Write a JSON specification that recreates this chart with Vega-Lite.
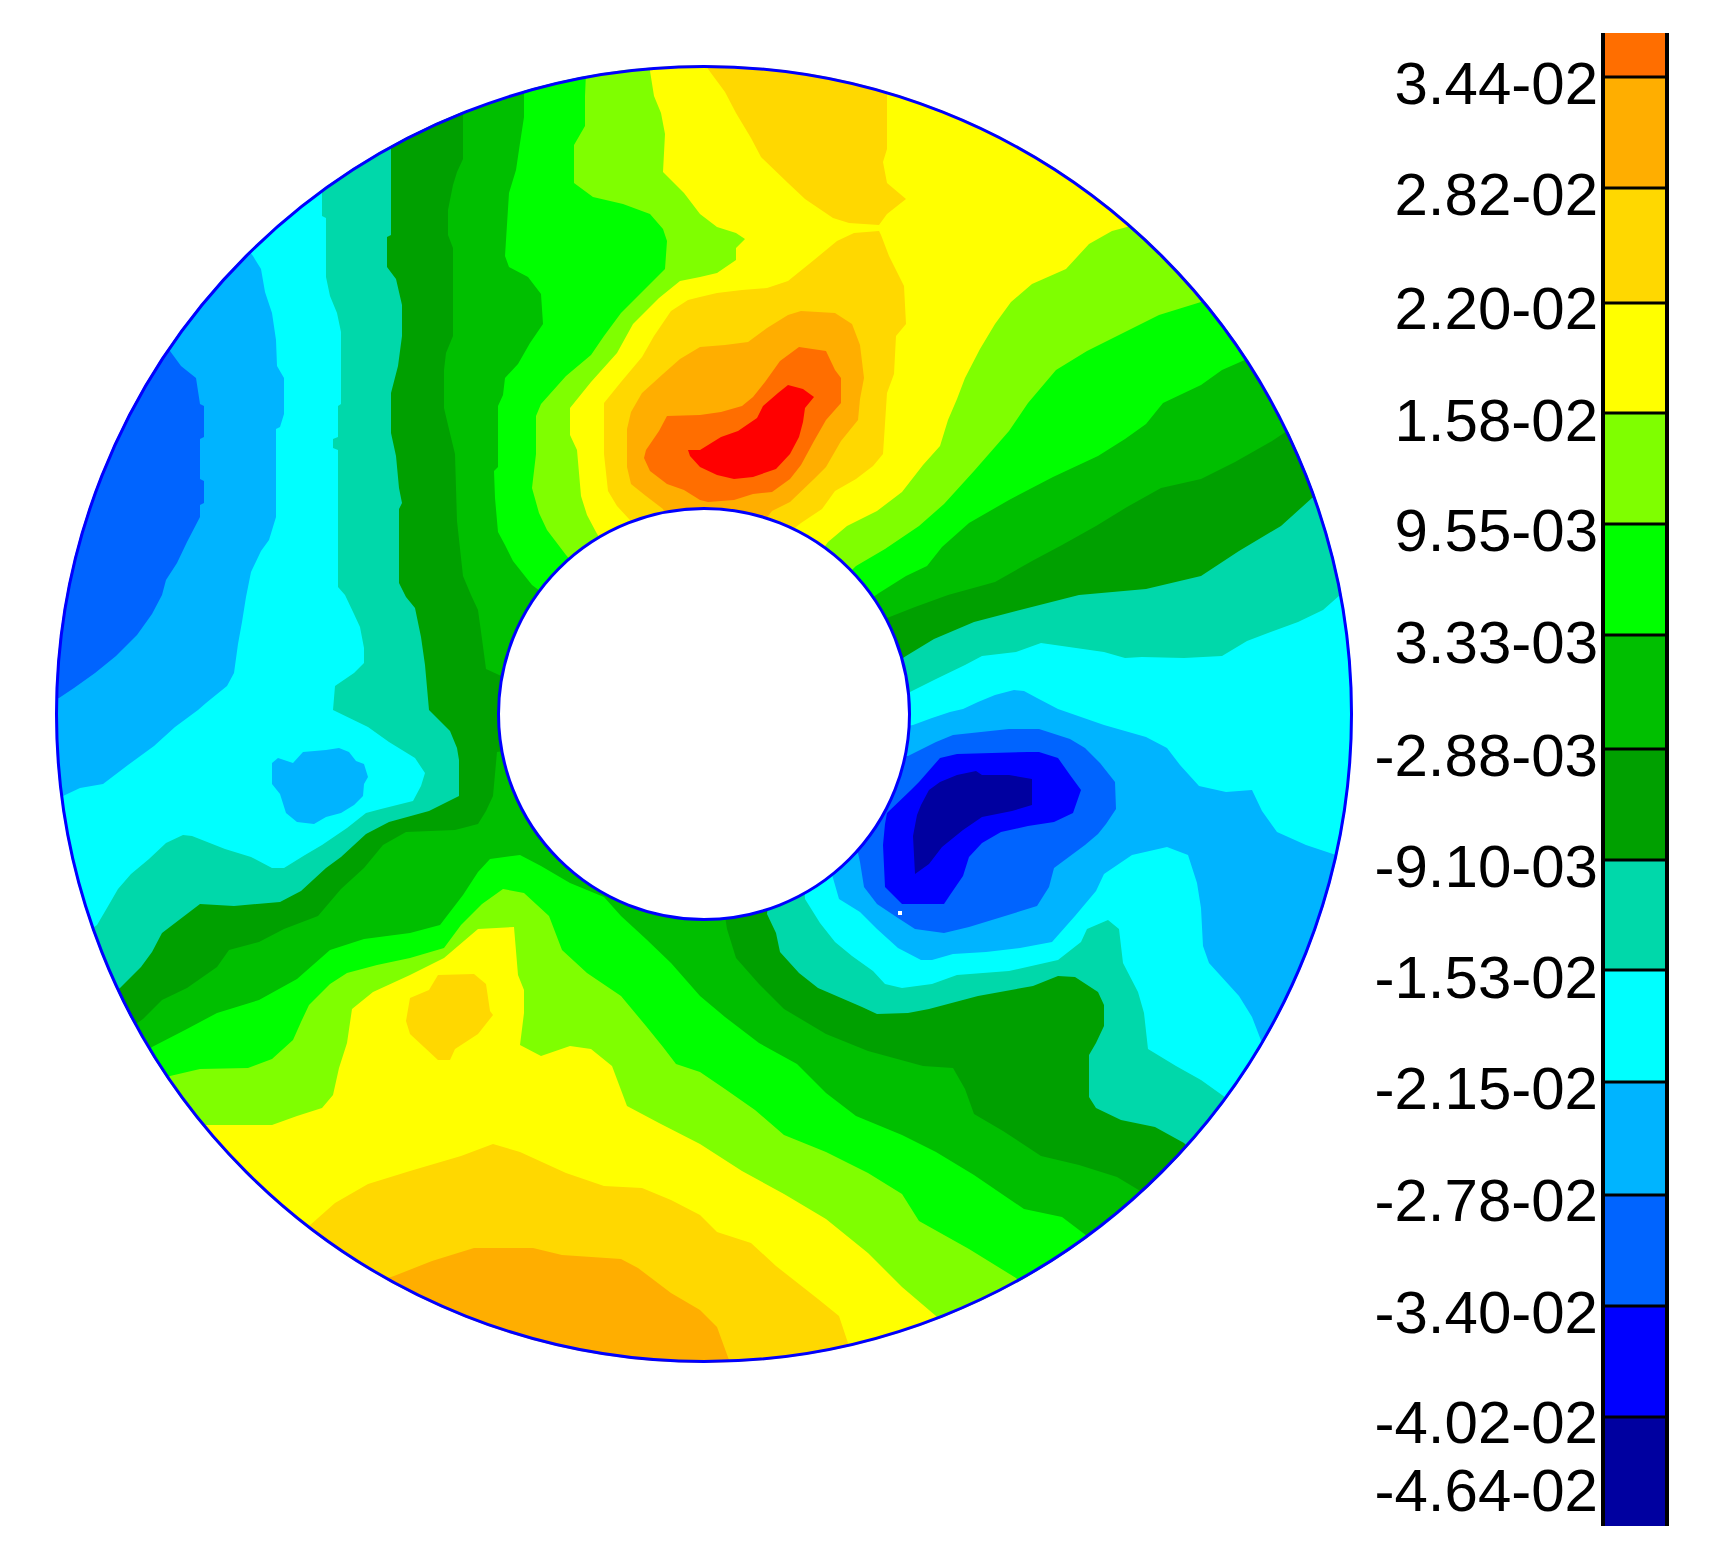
{"$schema":"https://vega.github.io/schema/vega-lite/v6.json","width":1713,"height":1568,"padding":0,"autosize":{"type":"none"},"background":"white","view":{"stroke":null},
"datasets":{
"center":[{"x":704,"y":714}],
"speck":[{"x":900,"y":913}],
"regions":[
{"r":"p1","l":"E","x":524,"y":0},{"r":"p1","l":"E","x":524,"y":88},{"r":"p1","l":"E","x":524,"y":117},{"r":"p1","l":"E","x":520,"y":143},{"r":"p1","l":"E","x":516,"y":170},{"r":"p1","l":"E","x":509,"y":193},{"r":"p1","l":"E","x":505,"y":256},{"r":"p1","l":"E","x":509,"y":267},{"r":"p1","l":"E","x":528,"y":277},{"r":"p1","l":"E","x":541,"y":294},{"r":"p1","l":"E","x":543,"y":324},{"r":"p1","l":"E","x":530,"y":343},{"r":"p1","l":"E","x":518,"y":364},{"r":"p1","l":"E","x":505,"y":378},{"r":"p1","l":"E","x":503,"y":395},{"r":"p1","l":"E","x":498,"y":406},{"r":"p1","l":"E","x":498,"y":467},{"r":"p1","l":"E","x":494,"y":471},{"r":"p1","l":"E","x":495,"y":498},{"r":"p1","l":"E","x":498,"y":532},{"r":"p1","l":"E","x":505,"y":545},{"r":"p1","l":"E","x":513,"y":561},{"r":"p1","l":"E","x":532,"y":585},{"r":"p1","l":"E","x":704,"y":714},{"r":"p1","l":"E","x":879,"y":593},{"r":"p1","l":"E","x":906,"y":576},{"r":"p1","l":"E","x":927,"y":566},{"r":"p1","l":"E","x":942,"y":547},{"r":"p1","l":"E","x":969,"y":523},{"r":"p1","l":"E","x":1009,"y":500},{"r":"p1","l":"E","x":1053,"y":477},{"r":"p1","l":"E","x":1098,"y":456},{"r":"p1","l":"E","x":1125,"y":439},{"r":"p1","l":"E","x":1146,"y":424},{"r":"p1","l":"E","x":1163,"y":403},{"r":"p1","l":"E","x":1201,"y":385},{"r":"p1","l":"E","x":1222,"y":370},{"r":"p1","l":"E","x":1247,"y":359},{"r":"p1","l":"E","x":1400,"y":310},{"r":"p1","l":"E","x":1400,"y":0},
{"r":"p2","l":"L","x":589,"y":0},{"r":"p2","l":"L","x":585,"y":96},{"r":"p2","l":"L","x":585,"y":126},{"r":"p2","l":"L","x":574,"y":145},{"r":"p2","l":"L","x":574,"y":183},{"r":"p2","l":"L","x":593,"y":197},{"r":"p2","l":"L","x":623,"y":204},{"r":"p2","l":"L","x":650,"y":214},{"r":"p2","l":"L","x":663,"y":229},{"r":"p2","l":"L","x":667,"y":241},{"r":"p2","l":"L","x":665,"y":269},{"r":"p2","l":"L","x":646,"y":288},{"r":"p2","l":"L","x":621,"y":313},{"r":"p2","l":"L","x":604,"y":336},{"r":"p2","l":"L","x":591,"y":355},{"r":"p2","l":"L","x":566,"y":376},{"r":"p2","l":"L","x":541,"y":404},{"r":"p2","l":"L","x":536,"y":416},{"r":"p2","l":"L","x":536,"y":454},{"r":"p2","l":"L","x":532,"y":488},{"r":"p2","l":"L","x":539,"y":513},{"r":"p2","l":"L","x":547,"y":530},{"r":"p2","l":"L","x":566,"y":555},{"r":"p2","l":"L","x":704,"y":714},{"r":"p2","l":"L","x":856,"y":566},{"r":"p2","l":"L","x":885,"y":549},{"r":"p2","l":"L","x":919,"y":526},{"r":"p2","l":"L","x":944,"y":504},{"r":"p2","l":"L","x":974,"y":471},{"r":"p2","l":"L","x":1009,"y":431},{"r":"p2","l":"L","x":1028,"y":403},{"r":"p2","l":"L","x":1056,"y":370},{"r":"p2","l":"L","x":1087,"y":351},{"r":"p2","l":"L","x":1117,"y":336},{"r":"p2","l":"L","x":1159,"y":315},{"r":"p2","l":"L","x":1201,"y":302},{"r":"p2","l":"L","x":1300,"y":260},{"r":"p2","l":"L","x":1300,"y":0},
{"r":"p3","l":"Y","x":650,"y":0},{"r":"p3","l":"Y","x":650,"y":71},{"r":"p3","l":"Y","x":654,"y":96},{"r":"p3","l":"Y","x":661,"y":113},{"r":"p3","l":"Y","x":665,"y":134},{"r":"p3","l":"Y","x":663,"y":172},{"r":"p3","l":"Y","x":684,"y":193},{"r":"p3","l":"Y","x":700,"y":214},{"r":"p3","l":"Y","x":717,"y":227},{"r":"p3","l":"Y","x":736,"y":233},{"r":"p3","l":"Y","x":745,"y":239},{"r":"p3","l":"Y","x":736,"y":248},{"r":"p3","l":"Y","x":736,"y":260},{"r":"p3","l":"Y","x":717,"y":273},{"r":"p3","l":"Y","x":700,"y":277},{"r":"p3","l":"Y","x":680,"y":281},{"r":"p3","l":"Y","x":659,"y":298},{"r":"p3","l":"Y","x":633,"y":324},{"r":"p3","l":"Y","x":617,"y":353},{"r":"p3","l":"Y","x":591,"y":382},{"r":"p3","l":"Y","x":570,"y":408},{"r":"p3","l":"Y","x":570,"y":435},{"r":"p3","l":"Y","x":577,"y":450},{"r":"p3","l":"Y","x":581,"y":496},{"r":"p3","l":"Y","x":587,"y":515},{"r":"p3","l":"Y","x":596,"y":532},{"r":"p3","l":"Y","x":704,"y":714},{"r":"p3","l":"Y","x":828,"y":542},{"r":"p3","l":"Y","x":847,"y":526},{"r":"p3","l":"Y","x":877,"y":511},{"r":"p3","l":"Y","x":902,"y":492},{"r":"p3","l":"Y","x":923,"y":465},{"r":"p3","l":"Y","x":940,"y":446},{"r":"p3","l":"Y","x":948,"y":420},{"r":"p3","l":"Y","x":957,"y":399},{"r":"p3","l":"Y","x":965,"y":378},{"r":"p3","l":"Y","x":980,"y":349},{"r":"p3","l":"Y","x":995,"y":324},{"r":"p3","l":"Y","x":1011,"y":302},{"r":"p3","l":"Y","x":1032,"y":284},{"r":"p3","l":"Y","x":1066,"y":269},{"r":"p3","l":"Y","x":1089,"y":244},{"r":"p3","l":"Y","x":1112,"y":231},{"r":"p3","l":"Y","x":1127,"y":227},{"r":"p3","l":"Y","x":1230,"y":180},{"r":"p3","l":"Y","x":1230,"y":0},
{"r":"p4a","l":"G","x":708,"y":20},{"r":"p4a","l":"G","x":708,"y":69},{"r":"p4a","l":"G","x":725,"y":92},{"r":"p4a","l":"G","x":736,"y":113},{"r":"p4a","l":"G","x":751,"y":138},{"r":"p4a","l":"G","x":761,"y":157},{"r":"p4a","l":"G","x":788,"y":183},{"r":"p4a","l":"G","x":805,"y":199},{"r":"p4a","l":"G","x":833,"y":218},{"r":"p4a","l":"G","x":849,"y":223},{"r":"p4a","l":"G","x":879,"y":225},{"r":"p4a","l":"G","x":887,"y":214},{"r":"p4a","l":"G","x":906,"y":199},{"r":"p4a","l":"G","x":887,"y":183},{"r":"p4a","l":"G","x":883,"y":162},{"r":"p4a","l":"G","x":887,"y":149},{"r":"p4a","l":"G","x":887,"y":96},{"r":"p4a","l":"G","x":887,"y":20},
{"r":"p4b","l":"G","x":879,"y":231},{"r":"p4b","l":"G","x":854,"y":233},{"r":"p4b","l":"G","x":837,"y":241},{"r":"p4b","l":"G","x":814,"y":260},{"r":"p4b","l":"G","x":788,"y":281},{"r":"p4b","l":"G","x":767,"y":288},{"r":"p4b","l":"G","x":742,"y":290},{"r":"p4b","l":"G","x":717,"y":293},{"r":"p4b","l":"G","x":700,"y":297},{"r":"p4b","l":"G","x":688,"y":300},{"r":"p4b","l":"G","x":671,"y":311},{"r":"p4b","l":"G","x":654,"y":336},{"r":"p4b","l":"G","x":642,"y":357},{"r":"p4b","l":"G","x":621,"y":382},{"r":"p4b","l":"G","x":604,"y":403},{"r":"p4b","l":"G","x":604,"y":454},{"r":"p4b","l":"G","x":608,"y":491},{"r":"p4b","l":"G","x":617,"y":506},{"r":"p4b","l":"G","x":629,"y":519},{"r":"p4b","l":"G","x":704,"y":600},{"r":"p4b","l":"G","x":801,"y":523},{"r":"p4b","l":"G","x":822,"y":509},{"r":"p4b","l":"G","x":835,"y":491},{"r":"p4b","l":"G","x":856,"y":479},{"r":"p4b","l":"G","x":873,"y":466},{"r":"p4b","l":"G","x":883,"y":454},{"r":"p4b","l":"G","x":887,"y":393},{"r":"p4b","l":"G","x":894,"y":374},{"r":"p4b","l":"G","x":896,"y":336},{"r":"p4b","l":"G","x":906,"y":324},{"r":"p4b","l":"G","x":904,"y":286},{"r":"p4b","l":"G","x":889,"y":256},{"r":"p4b","l":"G","x":881,"y":235},
{"r":"p5","l":"A","x":700,"y":347},{"r":"p5","l":"A","x":725,"y":345},{"r":"p5","l":"A","x":748,"y":342},{"r":"p5","l":"A","x":767,"y":328},{"r":"p5","l":"A","x":788,"y":315},{"r":"p5","l":"A","x":801,"y":311},{"r":"p5","l":"A","x":835,"y":313},{"r":"p5","l":"A","x":852,"y":324},{"r":"p5","l":"A","x":860,"y":345},{"r":"p5","l":"A","x":864,"y":378},{"r":"p5","l":"A","x":860,"y":399},{"r":"p5","l":"A","x":858,"y":420},{"r":"p5","l":"A","x":841,"y":441},{"r":"p5","l":"A","x":826,"y":467},{"r":"p5","l":"A","x":814,"y":479},{"r":"p5","l":"A","x":790,"y":502},{"r":"p5","l":"A","x":772,"y":511},{"r":"p5","l":"A","x":704,"y":600},{"r":"p5","l":"A","x":663,"y":509},{"r":"p5","l":"A","x":646,"y":496},{"r":"p5","l":"A","x":631,"y":484},{"r":"p5","l":"A","x":627,"y":467},{"r":"p5","l":"A","x":627,"y":429},{"r":"p5","l":"A","x":631,"y":412},{"r":"p5","l":"A","x":642,"y":393},{"r":"p5","l":"A","x":663,"y":374},{"r":"p5","l":"A","x":680,"y":359},
{"r":"p6","l":"O","x":700,"y":415},{"r":"p6","l":"O","x":721,"y":412},{"r":"p6","l":"O","x":742,"y":406},{"r":"p6","l":"O","x":753,"y":397},{"r":"p6","l":"O","x":765,"y":382},{"r":"p6","l":"O","x":780,"y":361},{"r":"p6","l":"O","x":799,"y":347},{"r":"p6","l":"O","x":826,"y":351},{"r":"p6","l":"O","x":835,"y":370},{"r":"p6","l":"O","x":841,"y":378},{"r":"p6","l":"O","x":841,"y":403},{"r":"p6","l":"O","x":826,"y":420},{"r":"p6","l":"O","x":814,"y":441},{"r":"p6","l":"O","x":801,"y":465},{"r":"p6","l":"O","x":790,"y":479},{"r":"p6","l":"O","x":772,"y":492},{"r":"p6","l":"O","x":753,"y":494},{"r":"p6","l":"O","x":734,"y":500},{"r":"p6","l":"O","x":708,"y":502},{"r":"p6","l":"O","x":700,"y":500},{"r":"p6","l":"O","x":684,"y":490},{"r":"p6","l":"O","x":667,"y":484},{"r":"p6","l":"O","x":650,"y":471},{"r":"p6","l":"O","x":644,"y":458},{"r":"p6","l":"O","x":646,"y":450},{"r":"p6","l":"O","x":659,"y":431},{"r":"p6","l":"O","x":667,"y":416},
{"r":"p7","l":"R","x":700,"y":450},{"r":"p7","l":"R","x":721,"y":437},{"r":"p7","l":"R","x":738,"y":431},{"r":"p7","l":"R","x":757,"y":418},{"r":"p7","l":"R","x":763,"y":406},{"r":"p7","l":"R","x":778,"y":393},{"r":"p7","l":"R","x":788,"y":385},{"r":"p7","l":"R","x":803,"y":389},{"r":"p7","l":"R","x":814,"y":397},{"r":"p7","l":"R","x":805,"y":408},{"r":"p7","l":"R","x":803,"y":422},{"r":"p7","l":"R","x":799,"y":437},{"r":"p7","l":"R","x":790,"y":454},{"r":"p7","l":"R","x":776,"y":469},{"r":"p7","l":"R","x":753,"y":477},{"r":"p7","l":"R","x":734,"y":479},{"r":"p7","l":"R","x":717,"y":475},{"r":"p7","l":"R","x":700,"y":467},{"r":"p7","l":"R","x":690,"y":456},{"r":"p7","l":"R","x":688,"y":450},
{"r":"q1","l":"E","x":100,"y":1090},{"r":"q1","l":"E","x":152,"y":1047},{"r":"q1","l":"E","x":185,"y":1030},{"r":"q1","l":"E","x":217,"y":1013},{"r":"q1","l":"E","x":259,"y":1000},{"r":"q1","l":"E","x":297,"y":979},{"r":"q1","l":"E","x":330,"y":950},{"r":"q1","l":"E","x":364,"y":939},{"r":"q1","l":"E","x":410,"y":933},{"r":"q1","l":"E","x":440,"y":925},{"r":"q1","l":"E","x":463,"y":895},{"r":"q1","l":"E","x":478,"y":872},{"r":"q1","l":"E","x":490,"y":859},{"r":"q1","l":"E","x":520,"y":855},{"r":"q1","l":"E","x":541,"y":866},{"r":"q1","l":"E","x":570,"y":883},{"r":"q1","l":"E","x":604,"y":897},{"r":"q1","l":"E","x":621,"y":916},{"r":"q1","l":"E","x":646,"y":939},{"r":"q1","l":"E","x":671,"y":963},{"r":"q1","l":"E","x":700,"y":996},{"r":"q1","l":"E","x":725,"y":1017},{"r":"q1","l":"E","x":759,"y":1043},{"r":"q1","l":"E","x":797,"y":1064},{"r":"q1","l":"E","x":826,"y":1093},{"r":"q1","l":"E","x":856,"y":1116},{"r":"q1","l":"E","x":902,"y":1135},{"r":"q1","l":"E","x":936,"y":1152},{"r":"q1","l":"E","x":974,"y":1175},{"r":"q1","l":"E","x":1024,"y":1209},{"r":"q1","l":"E","x":1062,"y":1217},{"r":"q1","l":"E","x":1087,"y":1236},{"r":"q1","l":"E","x":1150,"y":1300},{"r":"q1","l":"E","x":1150,"y":1500},{"r":"q1","l":"E","x":100,"y":1500},
{"r":"q2","l":"L","x":120,"y":1110},{"r":"q2","l":"L","x":170,"y":1076},{"r":"q2","l":"L","x":200,"y":1069},{"r":"q2","l":"L","x":248,"y":1068},{"r":"q2","l":"L","x":272,"y":1059},{"r":"q2","l":"L","x":293,"y":1040},{"r":"q2","l":"L","x":301,"y":1022},{"r":"q2","l":"L","x":309,"y":1005},{"r":"q2","l":"L","x":330,"y":984},{"r":"q2","l":"L","x":347,"y":973},{"r":"q2","l":"L","x":377,"y":965},{"r":"q2","l":"L","x":410,"y":958},{"r":"q2","l":"L","x":444,"y":948},{"r":"q2","l":"L","x":461,"y":925},{"r":"q2","l":"L","x":482,"y":904},{"r":"q2","l":"L","x":503,"y":889},{"r":"q2","l":"L","x":524,"y":893},{"r":"q2","l":"L","x":549,"y":916},{"r":"q2","l":"L","x":562,"y":950},{"r":"q2","l":"L","x":587,"y":973},{"r":"q2","l":"L","x":621,"y":996},{"r":"q2","l":"L","x":646,"y":1026},{"r":"q2","l":"L","x":663,"y":1047},{"r":"q2","l":"L","x":676,"y":1064},{"r":"q2","l":"L","x":700,"y":1072},{"r":"q2","l":"L","x":725,"y":1089},{"r":"q2","l":"L","x":755,"y":1110},{"r":"q2","l":"L","x":784,"y":1135},{"r":"q2","l":"L","x":826,"y":1152},{"r":"q2","l":"L","x":868,"y":1173},{"r":"q2","l":"L","x":902,"y":1194},{"r":"q2","l":"L","x":919,"y":1221},{"r":"q2","l":"L","x":969,"y":1249},{"r":"q2","l":"L","x":1016,"y":1278},{"r":"q2","l":"L","x":1060,"y":1330},{"r":"q2","l":"L","x":1060,"y":1500},{"r":"q2","l":"L","x":120,"y":1500},
{"r":"q3","l":"Y","x":170,"y":1160},{"r":"q3","l":"Y","x":206,"y":1125},{"r":"q3","l":"Y","x":272,"y":1125},{"r":"q3","l":"Y","x":297,"y":1116},{"r":"q3","l":"Y","x":322,"y":1108},{"r":"q3","l":"Y","x":333,"y":1095},{"r":"q3","l":"Y","x":339,"y":1068},{"r":"q3","l":"Y","x":347,"y":1043},{"r":"q3","l":"Y","x":352,"y":1009},{"r":"q3","l":"Y","x":373,"y":992},{"r":"q3","l":"Y","x":410,"y":975},{"r":"q3","l":"Y","x":444,"y":958},{"r":"q3","l":"Y","x":478,"y":929},{"r":"q3","l":"Y","x":514,"y":927},{"r":"q3","l":"Y","x":518,"y":975},{"r":"q3","l":"Y","x":524,"y":990},{"r":"q3","l":"Y","x":524,"y":1013},{"r":"q3","l":"Y","x":520,"y":1045},{"r":"q3","l":"Y","x":541,"y":1056},{"r":"q3","l":"Y","x":570,"y":1046},{"r":"q3","l":"Y","x":591,"y":1049},{"r":"q3","l":"Y","x":612,"y":1066},{"r":"q3","l":"Y","x":627,"y":1106},{"r":"q3","l":"Y","x":659,"y":1123},{"r":"q3","l":"Y","x":700,"y":1144},{"r":"q3","l":"Y","x":742,"y":1171},{"r":"q3","l":"Y","x":784,"y":1194},{"r":"q3","l":"Y","x":826,"y":1219},{"r":"q3","l":"Y","x":868,"y":1253},{"r":"q3","l":"Y","x":902,"y":1287},{"r":"q3","l":"Y","x":936,"y":1316},{"r":"q3","l":"Y","x":990,"y":1380},{"r":"q3","l":"Y","x":990,"y":1500},{"r":"q3","l":"Y","x":170,"y":1500},
{"r":"q4a","l":"G","x":410,"y":998},{"r":"q4a","l":"G","x":429,"y":990},{"r":"q4a","l":"G","x":438,"y":975},{"r":"q4a","l":"G","x":474,"y":974},{"r":"q4a","l":"G","x":486,"y":984},{"r":"q4a","l":"G","x":490,"y":1011},{"r":"q4a","l":"G","x":493,"y":1015},{"r":"q4a","l":"G","x":478,"y":1034},{"r":"q4a","l":"G","x":455,"y":1049},{"r":"q4a","l":"G","x":450,"y":1060},{"r":"q4a","l":"G","x":438,"y":1060},{"r":"q4a","l":"G","x":410,"y":1034},{"r":"q4a","l":"G","x":406,"y":1021},
{"r":"q4b","l":"G","x":270,"y":1270},{"r":"q4b","l":"G","x":309,"y":1226},{"r":"q4b","l":"G","x":335,"y":1203},{"r":"q4b","l":"G","x":368,"y":1184},{"r":"q4b","l":"G","x":410,"y":1171},{"r":"q4b","l":"G","x":461,"y":1156},{"r":"q4b","l":"G","x":493,"y":1144},{"r":"q4b","l":"G","x":520,"y":1152},{"r":"q4b","l":"G","x":566,"y":1173},{"r":"q4b","l":"G","x":604,"y":1186},{"r":"q4b","l":"G","x":642,"y":1188},{"r":"q4b","l":"G","x":671,"y":1200},{"r":"q4b","l":"G","x":700,"y":1215},{"r":"q4b","l":"G","x":717,"y":1232},{"r":"q4b","l":"G","x":751,"y":1243},{"r":"q4b","l":"G","x":776,"y":1266},{"r":"q4b","l":"G","x":818,"y":1299},{"r":"q4b","l":"G","x":839,"y":1316},{"r":"q4b","l":"G","x":849,"y":1346},{"r":"q4b","l":"G","x":860,"y":1420},{"r":"q4b","l":"G","x":270,"y":1420},
{"r":"q5","l":"A","x":350,"y":1290},{"r":"q5","l":"A","x":394,"y":1276},{"r":"q5","l":"A","x":432,"y":1261},{"r":"q5","l":"A","x":474,"y":1248},{"r":"q5","l":"A","x":533,"y":1248},{"r":"q5","l":"A","x":562,"y":1255},{"r":"q5","l":"A","x":621,"y":1259},{"r":"q5","l":"A","x":638,"y":1268},{"r":"q5","l":"A","x":671,"y":1293},{"r":"q5","l":"A","x":700,"y":1310},{"r":"q5","l":"A","x":717,"y":1327},{"r":"q5","l":"A","x":729,"y":1360},{"r":"q5","l":"A","x":735,"y":1420},{"r":"q5","l":"A","x":350,"y":1420},
{"r":"n1a","l":"D","x":463,"y":0},{"r":"n1a","l":"D","x":463,"y":113},{"r":"n1a","l":"D","x":463,"y":159},{"r":"n1a","l":"D","x":457,"y":172},{"r":"n1a","l":"D","x":453,"y":185},{"r":"n1a","l":"D","x":448,"y":210},{"r":"n1a","l":"D","x":448,"y":235},{"r":"n1a","l":"D","x":453,"y":248},{"r":"n1a","l":"D","x":453,"y":336},{"r":"n1a","l":"D","x":446,"y":353},{"r":"n1a","l":"D","x":444,"y":370},{"r":"n1a","l":"D","x":444,"y":408},{"r":"n1a","l":"D","x":448,"y":425},{"r":"n1a","l":"D","x":455,"y":454},{"r":"n1a","l":"D","x":457,"y":521},{"r":"n1a","l":"D","x":463,"y":576},{"r":"n1a","l":"D","x":471,"y":595},{"r":"n1a","l":"D","x":478,"y":610},{"r":"n1a","l":"D","x":482,"y":639},{"r":"n1a","l":"D","x":486,"y":669},{"r":"n1a","l":"D","x":510,"y":680},{"r":"n1a","l":"D","x":510,"y":750},{"r":"n1a","l":"D","x":497,"y":752},{"r":"n1a","l":"D","x":493,"y":796},{"r":"n1a","l":"D","x":486,"y":811},{"r":"n1a","l":"D","x":478,"y":824},{"r":"n1a","l":"D","x":455,"y":830},{"r":"n1a","l":"D","x":406,"y":832},{"r":"n1a","l":"D","x":383,"y":845},{"r":"n1a","l":"D","x":364,"y":868},{"r":"n1a","l":"D","x":341,"y":889},{"r":"n1a","l":"D","x":318,"y":916},{"r":"n1a","l":"D","x":284,"y":929},{"r":"n1a","l":"D","x":259,"y":942},{"r":"n1a","l":"D","x":229,"y":950},{"r":"n1a","l":"D","x":217,"y":967},{"r":"n1a","l":"D","x":187,"y":988},{"r":"n1a","l":"D","x":162,"y":1000},{"r":"n1a","l":"D","x":143,"y":1019},{"r":"n1a","l":"D","x":100,"y":1050},{"r":"n1a","l":"D","x":0,"y":1050},{"r":"n1a","l":"D","x":0,"y":0},
{"r":"n1b","l":"D","x":860,"y":640},{"r":"n1b","l":"D","x":887,"y":618},{"r":"n1b","l":"D","x":915,"y":607},{"r":"n1b","l":"D","x":948,"y":595},{"r":"n1b","l":"D","x":995,"y":582},{"r":"n1b","l":"D","x":1032,"y":561},{"r":"n1b","l":"D","x":1062,"y":545},{"r":"n1b","l":"D","x":1096,"y":526},{"r":"n1b","l":"D","x":1127,"y":507},{"r":"n1b","l":"D","x":1161,"y":488},{"r":"n1b","l":"D","x":1201,"y":479},{"r":"n1b","l":"D","x":1235,"y":462},{"r":"n1b","l":"D","x":1272,"y":441},{"r":"n1b","l":"D","x":1287,"y":431},{"r":"n1b","l":"D","x":1380,"y":400},{"r":"n1b","l":"D","x":1500,"y":500},{"r":"n1b","l":"D","x":1500,"y":1100},{"r":"n1b","l":"D","x":1190,"y":1240},{"r":"n1b","l":"D","x":1142,"y":1192},{"r":"n1b","l":"D","x":1117,"y":1177},{"r":"n1b","l":"D","x":1079,"y":1165},{"r":"n1b","l":"D","x":1041,"y":1156},{"r":"n1b","l":"D","x":1003,"y":1131},{"r":"n1b","l":"D","x":974,"y":1114},{"r":"n1b","l":"D","x":965,"y":1089},{"r":"n1b","l":"D","x":953,"y":1068},{"r":"n1b","l":"D","x":923,"y":1066},{"r":"n1b","l":"D","x":868,"y":1051},{"r":"n1b","l":"D","x":826,"y":1034},{"r":"n1b","l":"D","x":784,"y":1009},{"r":"n1b","l":"D","x":759,"y":984},{"r":"n1b","l":"D","x":736,"y":958},{"r":"n1b","l":"D","x":727,"y":929},{"r":"n1b","l":"D","x":725,"y":916},{"r":"n1b","l":"D","x":760,"y":800},
{"r":"n2a","l":"T","x":391,"y":0},{"r":"n2a","l":"T","x":391,"y":149},{"r":"n2a","l":"T","x":391,"y":235},{"r":"n2a","l":"T","x":387,"y":237},{"r":"n2a","l":"T","x":387,"y":267},{"r":"n2a","l":"T","x":396,"y":279},{"r":"n2a","l":"T","x":402,"y":305},{"r":"n2a","l":"T","x":402,"y":336},{"r":"n2a","l":"T","x":398,"y":366},{"r":"n2a","l":"T","x":391,"y":393},{"r":"n2a","l":"T","x":391,"y":433},{"r":"n2a","l":"T","x":396,"y":456},{"r":"n2a","l":"T","x":399,"y":488},{"r":"n2a","l":"T","x":402,"y":503},{"r":"n2a","l":"T","x":399,"y":509},{"r":"n2a","l":"T","x":399,"y":583},{"r":"n2a","l":"T","x":406,"y":597},{"r":"n2a","l":"T","x":415,"y":608},{"r":"n2a","l":"T","x":421,"y":637},{"r":"n2a","l":"T","x":425,"y":665},{"r":"n2a","l":"T","x":429,"y":710},{"r":"n2a","l":"T","x":450,"y":731},{"r":"n2a","l":"T","x":457,"y":748},{"r":"n2a","l":"T","x":459,"y":760},{"r":"n2a","l":"T","x":459,"y":796},{"r":"n2a","l":"T","x":429,"y":811},{"r":"n2a","l":"T","x":389,"y":822},{"r":"n2a","l":"T","x":366,"y":834},{"r":"n2a","l":"T","x":341,"y":857},{"r":"n2a","l":"T","x":326,"y":868},{"r":"n2a","l":"T","x":301,"y":891},{"r":"n2a","l":"T","x":280,"y":902},{"r":"n2a","l":"T","x":234,"y":906},{"r":"n2a","l":"T","x":200,"y":904},{"r":"n2a","l":"T","x":179,"y":920},{"r":"n2a","l":"T","x":162,"y":933},{"r":"n2a","l":"T","x":152,"y":952},{"r":"n2a","l":"T","x":141,"y":967},{"r":"n2a","l":"T","x":120,"y":988},{"r":"n2a","l":"T","x":80,"y":1020},{"r":"n2a","l":"T","x":0,"y":1020},{"r":"n2a","l":"T","x":0,"y":0},
{"r":"n2b","l":"T","x":870,"y":680},{"r":"n2b","l":"T","x":906,"y":656},{"r":"n2b","l":"T","x":934,"y":639},{"r":"n2b","l":"T","x":974,"y":622},{"r":"n2b","l":"T","x":1020,"y":610},{"r":"n2b","l":"T","x":1079,"y":595},{"r":"n2b","l":"T","x":1146,"y":589},{"r":"n2b","l":"T","x":1201,"y":576},{"r":"n2b","l":"T","x":1239,"y":551},{"r":"n2b","l":"T","x":1281,"y":526},{"r":"n2b","l":"T","x":1312,"y":498},{"r":"n2b","l":"T","x":1400,"y":470},{"r":"n2b","l":"T","x":1500,"y":500},{"r":"n2b","l":"T","x":1500,"y":1100},{"r":"n2b","l":"T","x":1230,"y":1190},{"r":"n2b","l":"T","x":1184,"y":1143},{"r":"n2b","l":"T","x":1155,"y":1127},{"r":"n2b","l":"T","x":1121,"y":1120},{"r":"n2b","l":"T","x":1096,"y":1108},{"r":"n2b","l":"T","x":1089,"y":1097},{"r":"n2b","l":"T","x":1089,"y":1055},{"r":"n2b","l":"T","x":1096,"y":1043},{"r":"n2b","l":"T","x":1104,"y":1026},{"r":"n2b","l":"T","x":1104,"y":1005},{"r":"n2b","l":"T","x":1098,"y":992},{"r":"n2b","l":"T","x":1075,"y":977},{"r":"n2b","l":"T","x":1058,"y":976},{"r":"n2b","l":"T","x":1033,"y":986},{"r":"n2b","l":"T","x":978,"y":996},{"r":"n2b","l":"T","x":929,"y":1009},{"r":"n2b","l":"T","x":908,"y":1013},{"r":"n2b","l":"T","x":877,"y":1014},{"r":"n2b","l":"T","x":862,"y":1007},{"r":"n2b","l":"T","x":818,"y":988},{"r":"n2b","l":"T","x":799,"y":973},{"r":"n2b","l":"T","x":780,"y":952},{"r":"n2b","l":"T","x":776,"y":933},{"r":"n2b","l":"T","x":767,"y":914},{"r":"n2b","l":"T","x":780,"y":800},
{"r":"n3a","l":"C","x":322,"y":0},{"r":"n3a","l":"C","x":322,"y":197},{"r":"n3a","l":"C","x":322,"y":216},{"r":"n3a","l":"C","x":326,"y":218},{"r":"n3a","l":"C","x":326,"y":277},{"r":"n3a","l":"C","x":330,"y":296},{"r":"n3a","l":"C","x":337,"y":313},{"r":"n3a","l":"C","x":341,"y":332},{"r":"n3a","l":"C","x":341,"y":404},{"r":"n3a","l":"C","x":338,"y":406},{"r":"n3a","l":"C","x":338,"y":437},{"r":"n3a","l":"C","x":333,"y":439},{"r":"n3a","l":"C","x":333,"y":448},{"r":"n3a","l":"C","x":338,"y":450},{"r":"n3a","l":"C","x":338,"y":587},{"r":"n3a","l":"C","x":345,"y":595},{"r":"n3a","l":"C","x":354,"y":614},{"r":"n3a","l":"C","x":360,"y":627},{"r":"n3a","l":"C","x":364,"y":648},{"r":"n3a","l":"C","x":364,"y":663},{"r":"n3a","l":"C","x":354,"y":673},{"r":"n3a","l":"C","x":335,"y":686},{"r":"n3a","l":"C","x":333,"y":710},{"r":"n3a","l":"C","x":368,"y":727},{"r":"n3a","l":"C","x":389,"y":742},{"r":"n3a","l":"C","x":415,"y":758},{"r":"n3a","l":"C","x":425,"y":773},{"r":"n3a","l":"C","x":421,"y":786},{"r":"n3a","l":"C","x":413,"y":801},{"r":"n3a","l":"C","x":381,"y":809},{"r":"n3a","l":"C","x":366,"y":813},{"r":"n3a","l":"C","x":347,"y":828},{"r":"n3a","l":"C","x":322,"y":845},{"r":"n3a","l":"C","x":305,"y":855},{"r":"n3a","l":"C","x":284,"y":868},{"r":"n3a","l":"C","x":272,"y":868},{"r":"n3a","l":"C","x":251,"y":857},{"r":"n3a","l":"C","x":225,"y":849},{"r":"n3a","l":"C","x":192,"y":836},{"r":"n3a","l":"C","x":183,"y":835},{"r":"n3a","l":"C","x":166,"y":843},{"r":"n3a","l":"C","x":149,"y":859},{"r":"n3a","l":"C","x":131,"y":874},{"r":"n3a","l":"C","x":118,"y":889},{"r":"n3a","l":"C","x":107,"y":908},{"r":"n3a","l":"C","x":97,"y":925},{"r":"n3a","l":"C","x":60,"y":950},{"r":"n3a","l":"C","x":0,"y":950},{"r":"n3a","l":"C","x":0,"y":0},
{"r":"n3b","l":"C","x":880,"y":720},{"r":"n3b","l":"C","x":910,"y":692},{"r":"n3b","l":"C","x":936,"y":679},{"r":"n3b","l":"C","x":965,"y":665},{"r":"n3b","l":"C","x":982,"y":656},{"r":"n3b","l":"C","x":1016,"y":652},{"r":"n3b","l":"C","x":1041,"y":643},{"r":"n3b","l":"C","x":1062,"y":646},{"r":"n3b","l":"C","x":1104,"y":652},{"r":"n3b","l":"C","x":1125,"y":658},{"r":"n3b","l":"C","x":1142,"y":657},{"r":"n3b","l":"C","x":1184,"y":658},{"r":"n3b","l":"C","x":1222,"y":656},{"r":"n3b","l":"C","x":1247,"y":641},{"r":"n3b","l":"C","x":1268,"y":633},{"r":"n3b","l":"C","x":1298,"y":622},{"r":"n3b","l":"C","x":1323,"y":610},{"r":"n3b","l":"C","x":1340,"y":595},{"r":"n3b","l":"C","x":1450,"y":560},{"r":"n3b","l":"C","x":1500,"y":1000},{"r":"n3b","l":"C","x":1280,"y":1140},{"r":"n3b","l":"C","x":1222,"y":1095},{"r":"n3b","l":"C","x":1201,"y":1080},{"r":"n3b","l":"C","x":1176,"y":1066},{"r":"n3b","l":"C","x":1148,"y":1049},{"r":"n3b","l":"C","x":1144,"y":1013},{"r":"n3b","l":"C","x":1138,"y":992},{"r":"n3b","l":"C","x":1123,"y":963},{"r":"n3b","l":"C","x":1119,"y":929},{"r":"n3b","l":"C","x":1108,"y":920},{"r":"n3b","l":"C","x":1087,"y":929},{"r":"n3b","l":"C","x":1081,"y":942},{"r":"n3b","l":"C","x":1058,"y":960},{"r":"n3b","l":"C","x":1009,"y":971},{"r":"n3b","l":"C","x":957,"y":975},{"r":"n3b","l":"C","x":932,"y":984},{"r":"n3b","l":"C","x":902,"y":988},{"r":"n3b","l":"C","x":885,"y":984},{"r":"n3b","l":"C","x":873,"y":971},{"r":"n3b","l":"C","x":852,"y":956},{"r":"n3b","l":"C","x":835,"y":942},{"r":"n3b","l":"C","x":820,"y":923},{"r":"n3b","l":"C","x":805,"y":899},{"r":"n3b","l":"C","x":800,"y":800},
{"r":"n4a","l":"S","x":200,"y":190},{"r":"n4a","l":"S","x":253,"y":256},{"r":"n4a","l":"S","x":261,"y":269},{"r":"n4a","l":"S","x":265,"y":292},{"r":"n4a","l":"S","x":272,"y":313},{"r":"n4a","l":"S","x":276,"y":340},{"r":"n4a","l":"S","x":277,"y":366},{"r":"n4a","l":"S","x":284,"y":378},{"r":"n4a","l":"S","x":284,"y":414},{"r":"n4a","l":"S","x":280,"y":427},{"r":"n4a","l":"S","x":276,"y":429},{"r":"n4a","l":"S","x":276,"y":517},{"r":"n4a","l":"S","x":269,"y":540},{"r":"n4a","l":"S","x":261,"y":551},{"r":"n4a","l":"S","x":251,"y":572},{"r":"n4a","l":"S","x":246,"y":597},{"r":"n4a","l":"S","x":242,"y":622},{"r":"n4a","l":"S","x":238,"y":644},{"r":"n4a","l":"S","x":234,"y":673},{"r":"n4a","l":"S","x":227,"y":686},{"r":"n4a","l":"S","x":206,"y":703},{"r":"n4a","l":"S","x":198,"y":710},{"r":"n4a","l":"S","x":175,"y":727},{"r":"n4a","l":"S","x":154,"y":746},{"r":"n4a","l":"S","x":128,"y":765},{"r":"n4a","l":"S","x":103,"y":784},{"r":"n4a","l":"S","x":80,"y":788},{"r":"n4a","l":"S","x":63,"y":796},{"r":"n4a","l":"S","x":0,"y":810},{"r":"n4a","l":"S","x":0,"y":190},
{"r":"n4i","l":"S","x":272,"y":763},{"r":"n4i","l":"S","x":278,"y":758},{"r":"n4i","l":"S","x":293,"y":763},{"r":"n4i","l":"S","x":303,"y":752},{"r":"n4i","l":"S","x":326,"y":750},{"r":"n4i","l":"S","x":339,"y":748},{"r":"n4i","l":"S","x":349,"y":752},{"r":"n4i","l":"S","x":356,"y":761},{"r":"n4i","l":"S","x":364,"y":764},{"r":"n4i","l":"S","x":368,"y":777},{"r":"n4i","l":"S","x":364,"y":784},{"r":"n4i","l":"S","x":363,"y":796},{"r":"n4i","l":"S","x":354,"y":805},{"r":"n4i","l":"S","x":341,"y":813},{"r":"n4i","l":"S","x":326,"y":817},{"r":"n4i","l":"S","x":314,"y":824},{"r":"n4i","l":"S","x":297,"y":822},{"r":"n4i","l":"S","x":286,"y":813},{"r":"n4i","l":"S","x":280,"y":794},{"r":"n4i","l":"S","x":272,"y":784},
{"r":"n4b","l":"S","x":880,"y":730},{"r":"n4b","l":"S","x":913,"y":725},{"r":"n4b","l":"S","x":932,"y":718},{"r":"n4b","l":"S","x":950,"y":712},{"r":"n4b","l":"S","x":963,"y":709},{"r":"n4b","l":"S","x":978,"y":702},{"r":"n4b","l":"S","x":995,"y":695},{"r":"n4b","l":"S","x":1014,"y":690},{"r":"n4b","l":"S","x":1024,"y":691},{"r":"n4b","l":"S","x":1037,"y":698},{"r":"n4b","l":"S","x":1058,"y":709},{"r":"n4b","l":"S","x":1104,"y":725},{"r":"n4b","l":"S","x":1146,"y":737},{"r":"n4b","l":"S","x":1167,"y":748},{"r":"n4b","l":"S","x":1180,"y":765},{"r":"n4b","l":"S","x":1199,"y":786},{"r":"n4b","l":"S","x":1226,"y":792},{"r":"n4b","l":"S","x":1252,"y":790},{"r":"n4b","l":"S","x":1262,"y":811},{"r":"n4b","l":"S","x":1277,"y":832},{"r":"n4b","l":"S","x":1306,"y":845},{"r":"n4b","l":"S","x":1336,"y":855},{"r":"n4b","l":"S","x":1450,"y":880},{"r":"n4b","l":"S","x":1450,"y":1050},{"r":"n4b","l":"S","x":1300,"y":1080},{"r":"n4b","l":"S","x":1262,"y":1043},{"r":"n4b","l":"S","x":1252,"y":1017},{"r":"n4b","l":"S","x":1239,"y":996},{"r":"n4b","l":"S","x":1209,"y":963},{"r":"n4b","l":"S","x":1203,"y":946},{"r":"n4b","l":"S","x":1201,"y":908},{"r":"n4b","l":"S","x":1197,"y":883},{"r":"n4b","l":"S","x":1188,"y":855},{"r":"n4b","l":"S","x":1167,"y":847},{"r":"n4b","l":"S","x":1132,"y":855},{"r":"n4b","l":"S","x":1104,"y":874},{"r":"n4b","l":"S","x":1096,"y":891},{"r":"n4b","l":"S","x":1075,"y":916},{"r":"n4b","l":"S","x":1052,"y":942},{"r":"n4b","l":"S","x":1020,"y":948},{"r":"n4b","l":"S","x":986,"y":952},{"r":"n4b","l":"S","x":953,"y":954},{"r":"n4b","l":"S","x":932,"y":960},{"r":"n4b","l":"S","x":921,"y":960},{"r":"n4b","l":"S","x":898,"y":948},{"r":"n4b","l":"S","x":877,"y":929},{"r":"n4b","l":"S","x":860,"y":912},{"r":"n4b","l":"S","x":839,"y":899},{"r":"n4b","l":"S","x":833,"y":878},{"r":"n4b","l":"S","x":810,"y":800},
{"r":"n5a","l":"B","x":120,"y":300},{"r":"n5a","l":"B","x":170,"y":351},{"r":"n5a","l":"B","x":181,"y":366},{"r":"n5a","l":"B","x":196,"y":378},{"r":"n5a","l":"B","x":200,"y":404},{"r":"n5a","l":"B","x":204,"y":406},{"r":"n5a","l":"B","x":204,"y":437},{"r":"n5a","l":"B","x":200,"y":439},{"r":"n5a","l":"B","x":200,"y":479},{"r":"n5a","l":"B","x":204,"y":481},{"r":"n5a","l":"B","x":204,"y":503},{"r":"n5a","l":"B","x":200,"y":505},{"r":"n5a","l":"B","x":200,"y":517},{"r":"n5a","l":"B","x":187,"y":542},{"r":"n5a","l":"B","x":177,"y":563},{"r":"n5a","l":"B","x":166,"y":580},{"r":"n5a","l":"B","x":162,"y":595},{"r":"n5a","l":"B","x":152,"y":614},{"r":"n5a","l":"B","x":137,"y":635},{"r":"n5a","l":"B","x":116,"y":656},{"r":"n5a","l":"B","x":95,"y":673},{"r":"n5a","l":"B","x":74,"y":688},{"r":"n5a","l":"B","x":59,"y":698},{"r":"n5a","l":"B","x":0,"y":710},{"r":"n5a","l":"B","x":0,"y":300},
{"r":"n5b","l":"B","x":880,"y":756},{"r":"n5b","l":"B","x":908,"y":756},{"r":"n5b","l":"B","x":936,"y":742},{"r":"n5b","l":"B","x":953,"y":735},{"r":"n5b","l":"B","x":1009,"y":729},{"r":"n5b","l":"B","x":1039,"y":729},{"r":"n5b","l":"B","x":1070,"y":739},{"r":"n5b","l":"B","x":1085,"y":748},{"r":"n5b","l":"B","x":1100,"y":763},{"r":"n5b","l":"B","x":1115,"y":782},{"r":"n5b","l":"B","x":1116,"y":809},{"r":"n5b","l":"B","x":1106,"y":824},{"r":"n5b","l":"B","x":1098,"y":834},{"r":"n5b","l":"B","x":1085,"y":845},{"r":"n5b","l":"B","x":1054,"y":868},{"r":"n5b","l":"B","x":1049,"y":887},{"r":"n5b","l":"B","x":1037,"y":906},{"r":"n5b","l":"B","x":1005,"y":916},{"r":"n5b","l":"B","x":969,"y":927},{"r":"n5b","l":"B","x":944,"y":933},{"r":"n5b","l":"B","x":915,"y":929},{"r":"n5b","l":"B","x":898,"y":918},{"r":"n5b","l":"B","x":877,"y":904},{"r":"n5b","l":"B","x":864,"y":887},{"r":"n5b","l":"B","x":860,"y":862},{"r":"n5b","l":"B","x":858,"y":853},{"r":"n5b","l":"B","x":840,"y":800},
{"r":"n6","l":"U","x":887,"y":813},{"r":"n6","l":"U","x":911,"y":790},{"r":"n6","l":"U","x":919,"y":782},{"r":"n6","l":"U","x":940,"y":758},{"r":"n6","l":"U","x":957,"y":754},{"r":"n6","l":"U","x":1028,"y":752},{"r":"n6","l":"U","x":1039,"y":752},{"r":"n6","l":"U","x":1058,"y":758},{"r":"n6","l":"U","x":1070,"y":775},{"r":"n6","l":"U","x":1081,"y":790},{"r":"n6","l":"U","x":1073,"y":813},{"r":"n6","l":"U","x":1054,"y":822},{"r":"n6","l":"U","x":1028,"y":826},{"r":"n6","l":"U","x":1001,"y":832},{"r":"n6","l":"U","x":982,"y":843},{"r":"n6","l":"U","x":969,"y":857},{"r":"n6","l":"U","x":963,"y":876},{"r":"n6","l":"U","x":950,"y":895},{"r":"n6","l":"U","x":944,"y":904},{"r":"n6","l":"U","x":917,"y":904},{"r":"n6","l":"U","x":902,"y":904},{"r":"n6","l":"U","x":885,"y":887},{"r":"n6","l":"U","x":883,"y":845},{"r":"n6","l":"U","x":885,"y":824},
{"r":"n7","l":"N","x":917,"y":815},{"r":"n7","l":"N","x":921,"y":805},{"r":"n7","l":"N","x":929,"y":790},{"r":"n7","l":"N","x":940,"y":782},{"r":"n7","l":"N","x":957,"y":775},{"r":"n7","l":"N","x":976,"y":771},{"r":"n7","l":"N","x":982,"y":775},{"r":"n7","l":"N","x":1009,"y":775},{"r":"n7","l":"N","x":1032,"y":779},{"r":"n7","l":"N","x":1032,"y":805},{"r":"n7","l":"N","x":1012,"y":811},{"r":"n7","l":"N","x":982,"y":817},{"r":"n7","l":"N","x":963,"y":830},{"r":"n7","l":"N","x":942,"y":847},{"r":"n7","l":"N","x":929,"y":864},{"r":"n7","l":"N","x":915,"y":874},{"r":"n7","l":"N","x":913,"y":836}
],
"bar":[
{"l":"O","y":33,"y2":77},{"l":"A","y":77,"y2":188},{"l":"G","y":188,"y2":303},{"l":"Y","y":303,"y2":413},{"l":"L","y":413,"y2":524},{"l":"E","y":524,"y2":635},{"l":"M","y":635,"y2":749},{"l":"D","y":749,"y2":860},{"l":"T","y":860,"y2":970},{"l":"C","y":970,"y2":1082},{"l":"S","y":1082,"y2":1195},{"l":"B","y":1195,"y2":1306},{"l":"U","y":1306,"y2":1417},{"l":"N","y":1417,"y2":1526}
],
"dividers":[{"y":77},{"y":188},{"y":303},{"y":413},{"y":524},{"y":635},{"y":749},{"y":860},{"y":970},{"y":1082},{"y":1195},{"y":1306},{"y":1417}],
"labels":[
{"t":"3.44-02","y":86},{"t":"2.82-02","y":197},{"t":"2.20-02","y":311},{"t":"1.58-02","y":423},{"t":"9.55-03","y":533},{"t":"3.33-03","y":645},{"t":"-2.88-03","y":758},{"t":"-9.10-03","y":869},{"t":"-1.53-02","y":980},{"t":"-2.15-02","y":1091},{"t":"-2.78-02","y":1203},{"t":"-3.40-02","y":1315},{"t":"-4.02-02","y":1425},{"t":"-4.64-02","y":1493}
]},
"layer":[
{"data":{"name":"center"},"mark":{"type":"point","shape":"circle","filled":true,"size":1677025,"fill":"#00BF00","opacity":1,"stroke":null},"encoding":{"x":{"field":"x","type":"quantitative","scale":{"domain":[0,1713],"nice":false,"zero":false},"axis":null},"y":{"field":"y","type":"quantitative","scale":{"domain":[1568,0],"nice":false,"zero":false},"axis":null}}},
{"data":{"name":"regions"},"mark":{"type":"line","filled":true,"strokeWidth":0,"opacity":1},"encoding":{"x":{"field":"x","type":"quantitative"},"y":{"field":"y","type":"quantitative"},"detail":{"field":"r"},"order":{"value":null},"fill":{"field":"l","type":"nominal","legend":null,"scale":{"domain":["R","O","A","G","Y","L","E","M","D","T","C","S","B","U","N"],"range":["#FF0000","#FF6E00","#FFAE00","#FFD800","#FFFF00","#7FFF00","#00FF00","#00BF00","#00A000","#00D8AA","#00FFFF","#00B4FF","#0064FF","#0000FF","#0000A0"]}}}},
{"data":{"name":"speck"},"mark":{"type":"point","shape":"square","filled":true,"size":16,"fill":"white","stroke":null,"opacity":1},"encoding":{"x":{"field":"x","type":"quantitative"},"y":{"field":"y","type":"quantitative"}}},
{"data":{"name":"center"},"mark":{"type":"point","shape":"circle","filled":false,"size":2890000,"stroke":"white","strokeWidth":403,"opacity":1},"encoding":{"x":{"field":"x","type":"quantitative"},"y":{"field":"y","type":"quantitative"}}},
{"data":{"name":"center"},"mark":{"type":"point","shape":"circle","filled":false,"size":1677025,"stroke":"#0000FF","strokeWidth":3,"opacity":1},"encoding":{"x":{"field":"x","type":"quantitative"},"y":{"field":"y","type":"quantitative"}}},
{"data":{"name":"center"},"mark":{"type":"point","shape":"circle","filled":true,"size":168921,"fill":"white","stroke":"#0000FF","strokeWidth":3,"opacity":1},"encoding":{"x":{"field":"x","type":"quantitative"},"y":{"field":"y","type":"quantitative"}}},
{"data":{"name":"bar"},"mark":{"type":"rect","x":1603,"x2":1667},"encoding":{"y":{"field":"y","type":"quantitative"},"y2":{"field":"y2"},"fill":{"field":"l","type":"nominal","legend":null}}},
{"data":{"name":"dividers"},"mark":{"type":"rule","color":"black","strokeWidth":3,"x":1603,"x2":1667},"encoding":{"y":{"field":"y","type":"quantitative"}}},
{"data":{"name":"bar"},"mark":{"type":"rule","color":"black","strokeWidth":4,"x":1603},"encoding":{"y":{"aggregate":"min","field":"y","type":"quantitative"},"y2":{"aggregate":"max","field":"y2"}}},
{"data":{"name":"bar"},"mark":{"type":"rule","color":"black","strokeWidth":4,"x":1667},"encoding":{"y":{"aggregate":"min","field":"y","type":"quantitative"},"y2":{"aggregate":"max","field":"y2"}}},
{"data":{"name":"labels"},"mark":{"type":"text","align":"right","baseline":"middle","font":"Liberation Sans","fontSize":60,"color":"black","x":1598},"encoding":{"y":{"field":"y","type":"quantitative"},"text":{"field":"t"}}}
]}
